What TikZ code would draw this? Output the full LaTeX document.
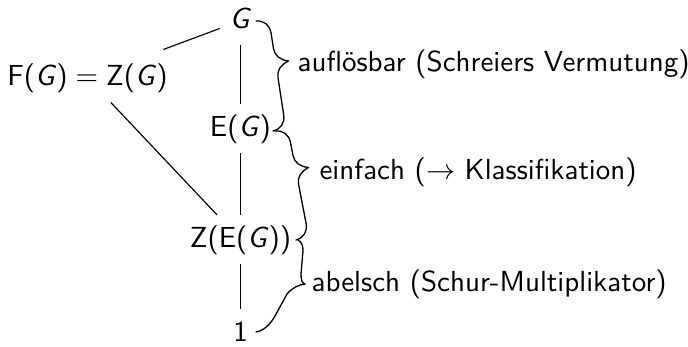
\documentclass[tikz,border=0pt]{standalone}
\usepackage{fontspec}
\usetikzlibrary{calc}

\tikzset{
  obj/.style={font=\sffamily, anchor=base, text height=7.5pt, text depth=2.5pt, inner sep=3.33pt},
  lbl/.style={font=\sffamily, anchor=base west, inner sep=0pt},
  edge/.style={draw, line width=0.4pt},
  bracestyle/.style={draw, line width=0.45pt, line join=round, line cap=round},
}
\newcommand\gsym{\textit{G}}

% curly brace from #1 to #2, tip on the right-hand side of the direction of travel
% #3 = position of the tip (fraction of the length), #4 = amplitude (pt), #5 = curl length (pt)
\newcommand\curlybrace[5]{%
  \draw[bracestyle] let \p1=($(#2)-(#1)$), \n1={atan2(\y1,\x1)}, \n2={veclen(\x1,\y1)} in
    [shift={(#1)}, rotate=\n1]
    (0pt,0pt)
    .. controls ({0.05*#5*1pt},{0.3*#4*1pt}) and ({0.4*#5*1pt},{0.5*#4*1pt}) .. ({#5*1pt},{0.5*#4*1pt})
    -- ({#3*\n2-#5*1pt},{0.5*#4*1pt})
    .. controls ({#3*\n2-0.5*#5*1pt},{0.5*#4*1pt}) and ({#3*\n2-0.15*#5*1pt},{0.7*#4*1pt}) .. ({#3*\n2},{#4*1pt})
    .. controls ({#3*\n2+0.15*#5*1pt},{0.7*#4*1pt}) and ({#3*\n2+0.5*#5*1pt},{0.5*#4*1pt}) .. ({#3*\n2+#5*1pt},{0.5*#4*1pt})
    -- ({\n2-#5*1pt},{0.5*#4*1pt})
    .. controls ({\n2-0.4*#5*1pt},{0.5*#4*1pt}) and ({\n2-0.05*#5*1pt},{0.3*#4*1pt}) .. ({\n2},{0pt});}

\begin{document}
\begin{tikzpicture}[x=0.3448pt, y=-0.3448pt]
\useasboundingbox (0,0) rectangle (688,347);

% the chain of subgroups
\node[obj] (G)   at (240.5,28)  {\gsym};
\node[obj] (FZ)  at (87.5,85)   {F(\gsym)${}={}$Z(\gsym)};
\node[obj] (E)   at (240.5,136) {E(\gsym)};
\node[obj] (ZE)  at (240.5,247) {Z(E(\gsym))};
\node[obj] (one) at (240.5,341) {1};

\draw[edge, shorten <=3.5pt] (FZ) -- (G);
\draw[edge] (FZ) -- (ZE);
\draw[edge] (G) -- (E);
\draw[edge] (E) -- (ZE);
\draw[edge] (ZE) -- (one);

% braces with the quotients
\coordinate (b1s) at (256,21);
\coordinate (b1e) at (273,131);
\coordinate (b2s) at (275,131);
\coordinate (b2e) at (296,240);
\curlybrace{b1s}{b1e}{0.4}{9}{5}
\curlybrace{b2s}{b2e}{0.38}{9}{5}

\coordinate (b3s) at (298,240);
\coordinate (b3t) at (305,284);
\coordinate (b3e) at (256,332);
\draw[bracestyle] (b3s) .. controls (302,242) and (303,246) .. (303,251)
  -- (301,274) .. controls (301,280) and (302,283) .. (b3t)
  .. controls (298,285) and (292,288) .. (287,294)
  -- (275,316) .. controls (270,325) and (263,331) .. (b3e);

\node[lbl] (l1) at (297,72)  {auflösbar (Schreiers Vermutung)};
\node[lbl] (l2) at (319,179) {einfach ($\rightarrow$ Klassifikation)};
\node[lbl] (l3) at (311,291) {abelsch (Schur-Multiplikator)};
\end{tikzpicture}
\end{document}
